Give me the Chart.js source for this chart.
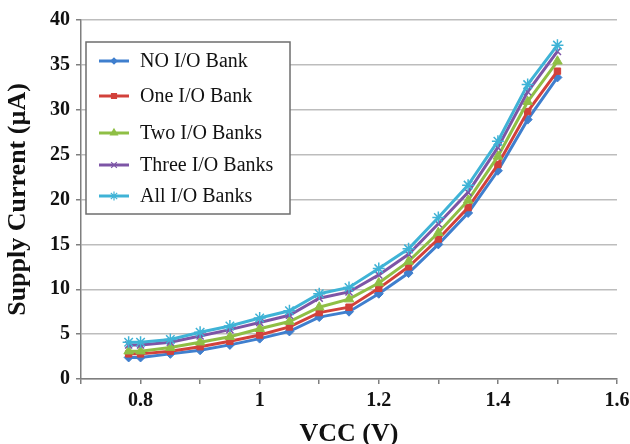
<!DOCTYPE html>
<html>
<head>
<meta charset="utf-8">
<script src="https://cdn.jsdelivr.net/npm/chart.js@4/dist/chart.umd.min.js"></script>
<style>
  html, body { margin: 0; padding: 0; background: #ffffff; }
  #wrap { width: 630px; height: 444px; position: relative; }
</style>
</head>
<body>
<div id="wrap"><canvas id="c" width="630" height="444"></canvas></div>
<script>
// ---- data ----
const vcc = [0.78, 0.8, 0.85, 0.9, 0.95, 1.0, 1.05, 1.1, 1.15, 1.2, 1.25, 1.3, 1.35, 1.4, 1.45, 1.5];
const noBank    = [2.4, 2.4, 2.8, 3.2, 3.8, 4.5, 5.3, 6.9, 7.5, 9.5, 11.8, 15.0, 18.5, 23.2, 28.9, 33.6];
const oneBank   = [2.8, 2.8, 3.1, 3.6, 4.2, 4.9, 5.8, 7.4, 8.0, 10.1, 12.5, 15.6, 19.1, 23.9, 29.8, 34.3];
const twoBanks  = [3.1, 3.1, 3.5, 4.1, 4.7, 5.6, 6.4, 8.0, 8.9, 10.7, 13.1, 16.3, 19.9, 24.8, 30.9, 35.4];
const threeBanks= [3.8, 3.8, 4.1, 4.8, 5.5, 6.3, 7.1, 9.0, 9.7, 11.6, 13.9, 17.3, 20.8, 25.8, 32.0, 36.5];
const allBanks  = [4.1, 4.1, 4.4, 5.2, 5.9, 6.8, 7.6, 9.5, 10.2, 12.3, 14.5, 18.0, 21.6, 26.5, 32.8, 37.2];
const seriesNames = ["NO I/O Bank", "One I/O Bank", "Two I/O Banks", "Three I/O Banks", "All I/O Banks"];
const xLabelValues = [0.8, 1, 1.2, 1.4, 1.6];
const yTickValues = [0, 5, 10, 15, 20, 25, 30, 35, 40];
const xTitle = "VCC (V)";
const yTitle = "Supply Current (\u00B5A)";

// ---- styles ----
const seriesValues = [noBank, oneBank, twoBanks, threeBanks, allBanks];
const colors = ["#3f7fce", "#d2413b", "#8fbf45", "#7d55a6", "#3fb3d6"];
const pStyles = ["rectRot", "rect", "triangle", "crossRot", "star"];
const pRadius = [4.5, 4.5, 5.5, 5, 6];
const legendRadius = [3, 3.5, 4, 4, 4.5];

const datasets = seriesValues.map((vals, i) => ({
  label: seriesNames[i],
  data: vals.map((v, k) => ({ x: vcc[k], y: v })),
  borderColor: colors[i],
  backgroundColor: colors[i],
  pointBackgroundColor: colors[i],
  pointBorderColor: colors[i],
  pointStyle: pStyles[i],
  pointRadius: pRadius[i],
  pointBorderWidth: (pStyles[i] === "crossRot" || pStyles[i] === "star") ? 1.5 : 1,
  borderWidth: 3,
  tension: 0,
  order: 4 - i
}));

const legendBox = {
  id: "legendBox",
  afterDatasetsDraw(chart) {
    const ctx = chart.ctx;
    const bx = 86, by = 42, bw = 204, bh = 172;
    ctx.save();
    ctx.fillStyle = "#ffffff";
    ctx.fillRect(bx, by, bw, bh);
    ctx.strokeStyle = "#6e6e6e";
    ctx.lineWidth = 1.5;
    ctx.strokeRect(bx, by, bw, bh);
    const rowsY = [61, 96, 133, 165, 196];
    seriesNames.forEach((name, i) => {
      const y = rowsY[i];
      ctx.strokeStyle = colors[i];
      ctx.lineWidth = 3;
      ctx.beginPath();
      ctx.moveTo(99, y);
      ctx.lineTo(129, y);
      ctx.stroke();
      ctx.fillStyle = colors[i];
      ctx.strokeStyle = colors[i];
      ctx.lineWidth = 1.2;
      Chart.helpers.drawPoint(ctx, { pointStyle: pStyles[i], radius: legendRadius[i], rotation: 0, borderWidth: 1.2 }, 114, y);
      ctx.fillStyle = "#111111";
      ctx.font = "20px 'Liberation Serif', 'Times New Roman', serif";
      ctx.textBaseline = "middle";
      ctx.textAlign = "left";
      ctx.fillText(name, 140, y + 1);
    });
    ctx.restore();
  }
};

new Chart(document.getElementById("c"), {
  type: "line",
  data: { datasets },
  plugins: [legendBox],
  options: {
    responsive: false,
    animation: false,
    events: [],
    layout: { padding: { left: 0, top: 20, right: 13, bottom: 0 } },
    plugins: { legend: { display: false }, tooltip: { enabled: false } },
    scales: {
      x: {
        type: "linear",
        min: 0.7, max: 1.6,
        afterBuildTicks(scale) {
          const t = [];
          for (let k = 7; k <= 16; k++) t.push({ value: k / 10 });
          scale.ticks = t;
        },
        afterFit(scale) {
          scale.height = 65;
          scale.paddingLeft = 0;
          scale.paddingRight = 0;
        },
        ticks: {
          autoSkip: false,
          maxRotation: 0,
          padding: 5,
          color: "#111111",
          font: { family: "'Liberation Serif', 'Times New Roman', serif", size: 20, weight: "bold" },
          callback(v) {
            const r = Math.round(v * 10) / 10;
            return xLabelValues.some(l => Math.abs(l - r) < 1e-6) ? String(r) : "";
          }
        },
        grid: { drawOnChartArea: false, drawTicks: true, tickLength: 5, color: "#7f7f7f", lineWidth: 1.5 },
        border: { display: true, color: "#7f7f7f", width: 1.5 },
        title: {
          display: true, text: xTitle, color: "#111111",
          padding: { top: 0, bottom: -3 },
          font: { family: "'Liberation Serif', 'Times New Roman', serif", size: 26, weight: "bold", lineHeight: 1 }
        }
      },
      y: {
        min: 0, max: 40,
        afterBuildTicks(scale) {
          scale.ticks = yTickValues.map(v => ({ value: v }));
        },
        afterFit(scale) {
          scale.width = 81;
          scale.paddingTop = 0;
          scale.paddingBottom = 0;
        },
        ticks: {
          padding: 6,
          color: "#111111",
          font: { family: "'Liberation Serif', 'Times New Roman', serif", size: 20, weight: "bold" }
        },
        grid: { drawTicks: true, tickLength: 5, color: "#bdbdbd", lineWidth: 1.5, tickColor: "#7f7f7f" },
        border: { display: true, color: "#7f7f7f", width: 1.5 },
        title: {
          display: true, text: yTitle, color: "#111111",
          padding: { top: 5, bottom: 0 },
          font: { family: "'Liberation Serif', 'Times New Roman', serif", size: 26, weight: "bold", lineHeight: 1 }
        }
      }
    }
  }
});
</script>
</body>
</html>
